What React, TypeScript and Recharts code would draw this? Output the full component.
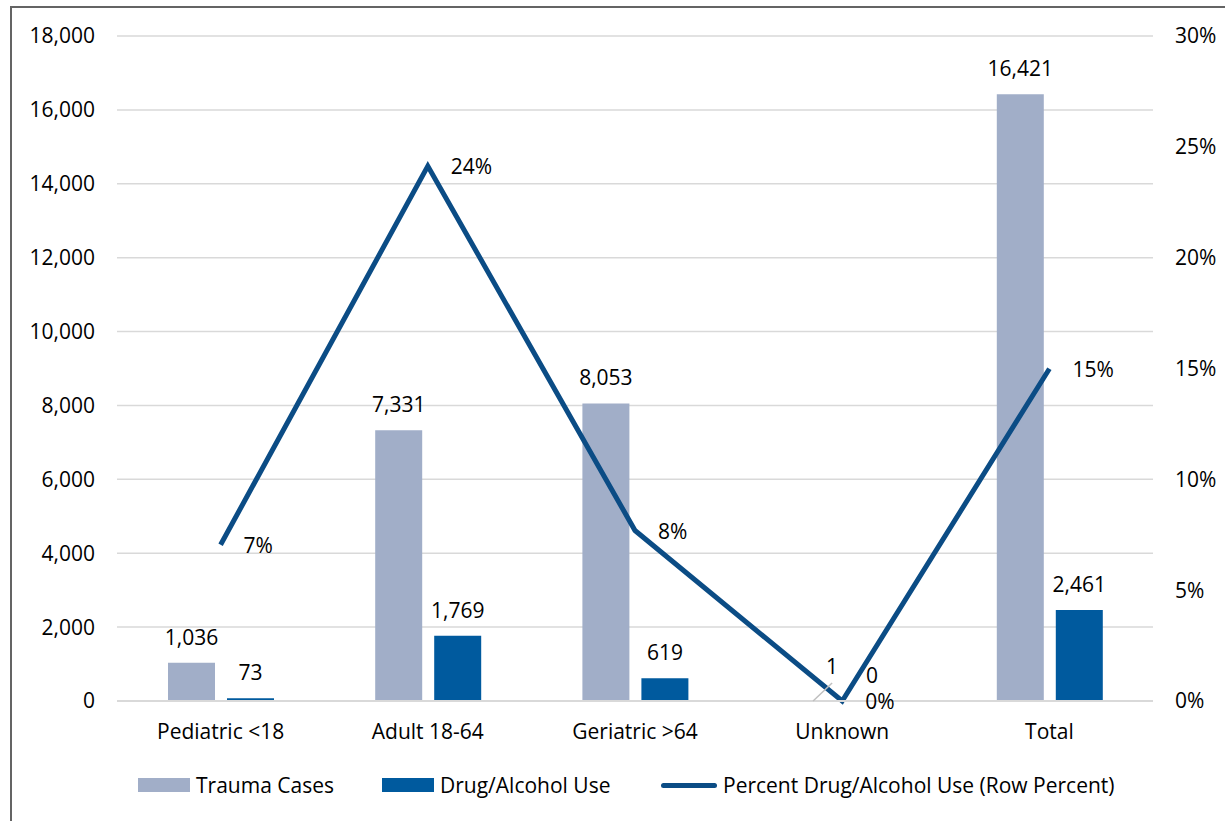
import React from "react";
import {
  Bar,
  CartesianGrid,
  ComposedChart,
  Legend,
  Line,
  XAxis,
  YAxis,
} from "recharts";

// ---------------------------------------------------------------------------
// Data
// ---------------------------------------------------------------------------

const categories = ["Pediatric <18", "Adult 18-64", "Geriatric >64", "Unknown", "Total"];
const traumaCases = [1036, 7331, 8053, 1, 16421];
const drugAlcoholUse = [73, 1769, 619, 0, 2461];
const percentDrugAlcohol = [0.0705, 0.2413, 0.0769, 0, 0.1499];

const leftTicks = [0, 2000, 4000, 6000, 8000, 10000, 12000, 14000, 16000, 18000];
const rightTicks = [0, 0.05, 0.1, 0.15, 0.2, 0.25, 0.3];

// The "1" label on the Unknown trauma bar was dragged aside in the original
// and hangs on a short leader line.
const leaderLabelIndex = 3;

const rows = categories.map((name, i) => ({
  name,
  trauma: traumaCases[i],
  drug: drugAlcoholUse[i],
  pct: percentDrugAlcohol[i],
}));

// ---------------------------------------------------------------------------
// Styling
// ---------------------------------------------------------------------------

const FONT = "'Open Sans', 'DejaVu Sans', sans-serif";
const FONT_SIZE = 21;
const TEXT = "#000";
const GRID = "#D9D9D9";
const TRAUMA = "#A1AEC8";
const DRUG = "#005A9E";
const LINE = "#0B4C85";

const fmtCount = (v: number) => v.toLocaleString("en-US");
const fmtPct = (v: number) => `${Math.round(v * 100)}%`;

// ---------------------------------------------------------------------------
// Custom labels
// ---------------------------------------------------------------------------

function TraumaLabel(props: any) {
  const { x, y, width, value, index } = props;
  const cx = x + width / 2;
  if (index === leaderLabelIndex) {
    return (
      <g>
        <line x1={cx} y1={y} x2={cx + 19} y2={y - 18} stroke="#BFBFBF" strokeWidth={1.5} />
        <text x={cx + 19} y={y - 35} textAnchor="middle" dominantBaseline="central"
          fontFamily={FONT} fontSize={FONT_SIZE} fill={TEXT}>
          {fmtCount(value)}
        </text>
      </g>
    );
  }
  return (
    <text x={cx} y={y - 26} textAnchor="middle" dominantBaseline="central"
      fontFamily={FONT} fontSize={FONT_SIZE} fill={TEXT}>
      {fmtCount(value)}
    </text>
  );
}

function DrugLabel(props: any) {
  const { x, y, width, height, value } = props;
  // zero bars get a hairline minPointSize; anchor on the baseline instead
  const top = value === 0 ? y + height : y;
  return (
    <text x={x + width / 2} y={top - 26} textAnchor="middle" dominantBaseline="central"
      fontFamily={FONT} fontSize={FONT_SIZE} fill={TEXT}>
      {fmtCount(value)}
    </text>
  );
}

function PctLabel(props: any) {
  const { x, y, value } = props;
  return (
    <text x={x + 23} y={y} textAnchor="start" dominantBaseline="central"
      fontFamily={FONT} fontSize={FONT_SIZE} fill={TEXT}>
      {fmtPct(value)}
    </text>
  );
}

// ---------------------------------------------------------------------------
// Legend — Excel style: wide swatches, fixed slots
// ---------------------------------------------------------------------------

function ChartLegend() {
  const item = (swatch: React.ReactNode, label: string, slot?: number) => (
    <div style={{ display: "flex", alignItems: "center", width: slot, flex: "none" }}>
      {swatch}
      <span style={{ marginLeft: 6, fontFamily: FONT, fontSize: FONT_SIZE, color: TEXT, whiteSpace: "nowrap" }}>
        {label}
      </span>
    </div>
  );
  return (
    <div style={{ display: "flex", alignItems: "center", height: 30, paddingLeft: 138 }}>
      {item(<div style={{ width: 52, height: 14, background: TRAUMA }} />, "Trauma Cases", 244)}
      {item(<div style={{ width: 52, height: 14, background: DRUG }} />, "Drug/Alcohol Use", 279)}
      {item(<div style={{ width: 56, height: 5, borderRadius: 3, background: LINE }} />, "Percent Drug/Alcohol Use (Row Percent)")}
    </div>
  );
}

// ---------------------------------------------------------------------------
// App
// ---------------------------------------------------------------------------

export default function App() {
  return (
    <div style={{ position: "fixed", left: 0, top: 0, width: 1225, height: 821, overflow: "hidden", background: "#fff" }}>
      {/* chart-area frame: only its top and left edges fall inside the picture */}
      <div style={{ position: "absolute", left: 10, top: 6, width: 2000, height: 2000, borderTop: "2px solid #646464", borderLeft: "2px solid #646464" }} />
      <div style={{ position: "absolute", left: 0, top: 0 }}>
        <ComposedChart
          width={1225}
          height={821}
          data={rows}
          margin={{ top: 36, right: 12, bottom: 21, left: 17 }}
          barSize={47}
          barGap={12}
        >
          <CartesianGrid yAxisId="left" vertical={false} stroke={GRID} strokeWidth={1.5} />
          <XAxis
            dataKey="name"
            height={69}
            tickLine={false}
            tickSize={0}
            tickMargin={23}
            axisLine={{ stroke: GRID, strokeWidth: 2 }}
            tick={{ fill: TEXT, fontSize: FONT_SIZE, fontFamily: FONT }}
            interval={0}
          />
          <YAxis
            yAxisId="left"
            width={100}
            domain={[0, 18000]}
            ticks={leftTicks}
            tickFormatter={fmtCount}
            tickLine={false}
            axisLine={false}
            tickSize={0}
            tickMargin={22}
            tick={{ fill: TEXT, fontSize: FONT_SIZE, fontFamily: FONT }}
          />
          <YAxis
            yAxisId="right"
            orientation="right"
            width={60}
            domain={[0, 0.3]}
            ticks={rightTicks}
            tickFormatter={fmtPct}
            tickLine={false}
            axisLine={false}
            tickSize={0}
            tickMargin={22}
            tick={{ fill: TEXT, fontSize: FONT_SIZE, fontFamily: FONT }}
          />
          <Legend verticalAlign="bottom" height={30} content={() => <ChartLegend />}
            wrapperStyle={{ left: 0, width: 1225 }} />
          <Bar yAxisId="left" dataKey="trauma" name="Trauma Cases" fill={TRAUMA}
            isAnimationActive={false} label={TraumaLabel} />
          <Bar yAxisId="left" dataKey="drug" name="Drug/Alcohol Use" fill={DRUG}
            minPointSize={0.01} isAnimationActive={false} label={DrugLabel} />
          <Line yAxisId="right" dataKey="pct" name="Percent Drug/Alcohol Use (Row Percent)"
            type="linear" stroke={LINE} strokeWidth={5} dot={false} activeDot={false}
            isAnimationActive={false} label={PctLabel} />
        </ComposedChart>
      </div>
    </div>
  );
}
